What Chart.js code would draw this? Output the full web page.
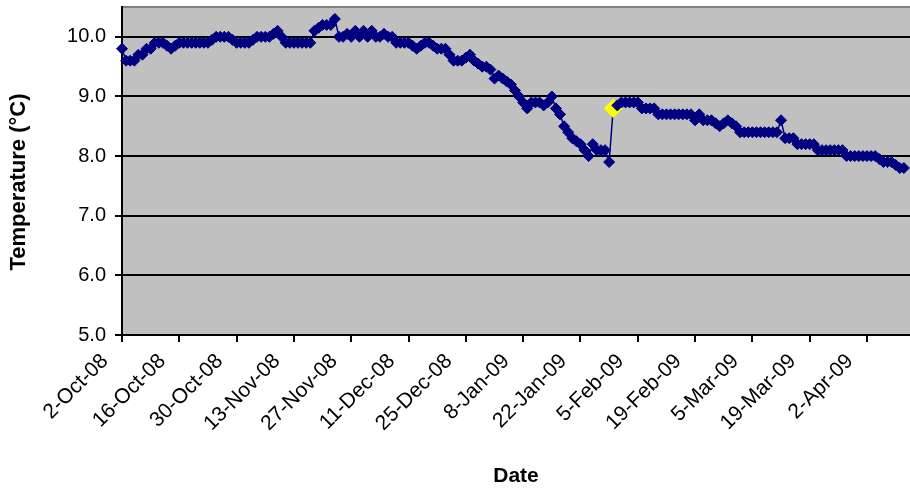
<!DOCTYPE html>
<html><head><meta charset="utf-8">
<script src="https://cdn.jsdelivr.net/npm/chart.js@4.4.0/dist/chart.umd.min.js"></script>
<style>html,body{margin:0;padding:0;background:#fff;}#wrap{width:910px;height:493px;}</style>
</head><body><div id="wrap"><canvas id="c" width="910" height="493"></canvas></div>
<script>
// Daily water temperature (°C), one value per day starting 2-Oct-08
const startDate = '2-Oct-08';
const temps = [
  9.8, 9.6, 9.6, 9.6, 9.7, 9.7, 9.8, 9.8, 9.9, 9.9,
  9.9, 9.85, 9.8, 9.85, 9.9, 9.9, 9.9, 9.9, 9.9, 9.9,
  9.9, 9.9, 9.95, 10.0, 10.0, 10.0, 10.0, 9.95, 9.9, 9.9,
  9.9, 9.9, 9.95, 10.0, 10.0, 10.0, 10.0, 10.05, 10.1, 10.0,
  9.9, 9.9, 9.9, 9.9, 9.9, 9.9, 9.9, 10.1, 10.15, 10.2,
  10.2, 10.2, 10.3, 10.0, 10.0, 10.05, 10.0, 10.1, 10.0, 10.1,
  10.0, 10.1, 10.0, 10.0, 10.05, 10.0, 10.0, 9.9, 9.9, 9.9,
  9.9, 9.85, 9.8, 9.85, 9.9, 9.9, 9.85, 9.8, 9.8, 9.8,
  9.7, 9.6, 9.6, 9.6, 9.65, 9.7, 9.6, 9.55, 9.5, 9.5,
  9.45, 9.3, 9.35, 9.3, 9.25, 9.2, 9.1, 9.0, 8.9, 8.8,
  8.9, 8.9, 8.9, 8.85, 8.9, 9.0, 8.8, 8.7, 8.5, 8.4,
  8.3, 8.25, 8.2, 8.1, 8.0, 8.2, 8.1, 8.1, 8.1, 7.9,
  8.8, 8.85, 8.9, 8.9, 8.9, 8.9, 8.9, 8.8, 8.8, 8.8,
  8.8, 8.7, 8.7, 8.7, 8.7, 8.7, 8.7, 8.7, 8.7, 8.7,
  8.6, 8.7, 8.6, 8.6, 8.6, 8.55, 8.5, 8.55, 8.6, 8.55,
  8.5, 8.4, 8.4, 8.4, 8.4, 8.4, 8.4, 8.4, 8.4, 8.4,
  8.4, 8.6, 8.3, 8.3, 8.3, 8.2, 8.2, 8.2, 8.2, 8.2,
  8.1, 8.1, 8.1, 8.1, 8.1, 8.1, 8.1, 8.0, 8.0, 8.0,
  8.0, 8.0, 8.0, 8.0, 8.0, 7.95, 7.9, 7.9, 7.9, 7.85,
  7.8, 7.8
];
const highlightIndex = 120; // the yellow marker
const xTickDays = [0, 14, 28, 42, 56, 70, 84, 98, 112, 126, 140, 154, 168, 182];
const xTickLabels = ['2-Oct-08','16-Oct-08','30-Oct-08','13-Nov-08','27-Nov-08','11-Dec-08','25-Dec-08',
                     '8-Jan-09','22-Jan-09','5-Feb-09','19-Feb-09','5-Mar-09','19-Mar-09','2-Apr-09'];
const yTicks = [5, 6, 7, 8, 9, 10];
const yTitle = 'Temperature (°C)';
const xTitle = 'Date';
const xAxisMaxDay = 192.5;

const points = temps.map((t, i) => ({x: i, y: t}));
const navy = '#000080', yellow = '#FFFF00';
const FONT = "'Liberation Sans', Arial, sans-serif";

const bgPlugin = {
  id: 'bg',
  beforeDraw(chart) {
    const {ctx, chartArea: a} = chart;
    ctx.save();
    ctx.fillStyle = '#fff';
    ctx.fillRect(0, 0, chart.width, chart.height);
    ctx.fillStyle = '#C0C0C0';
    ctx.fillRect(a.left, a.top, a.right - a.left, a.bottom - a.top);
    ctx.strokeStyle = '#808080';
    ctx.lineWidth = 2;
    ctx.beginPath();
    ctx.moveTo(a.left, a.top);
    ctx.lineTo(a.right, a.top);
    ctx.stroke();
    ctx.restore();
  },
  afterDraw(chart) {
    // vertical axis title (placed like the Excel original, slightly below plot centre)
    const {ctx, chartArea: a} = chart;
    ctx.save();
    ctx.fillStyle = '#000';
    ctx.font = "bold 22px 'Liberation Sans', Arial, sans-serif";
    ctx.textAlign = 'center';
    ctx.textBaseline = 'middle';
    ctx.translate(19, (a.top + a.bottom) / 2 + 11);
    ctx.rotate(-Math.PI / 2);
    ctx.fillText(yTitle, 0, 0);
    ctx.restore();
  }
};

new Chart(document.getElementById('c'), {
  type: 'line',
  data: {
    datasets: [{
      data: points,
      borderColor: navy,
      borderWidth: 1.5,
      tension: 0,
      fill: false,
      clip: false,
      pointStyle: 'rectRot',
      pointRadius: temps.map((_, i) => i === highlightIndex ? 9 : 5.5),
      pointBackgroundColor: temps.map((_, i) => i === highlightIndex ? yellow : navy),
      pointBorderColor: temps.map((_, i) => i === highlightIndex ? yellow : navy),
      pointBorderWidth: 1
    }]
  },
  options: {
    responsive: false,
    animation: false,
    events: [],
    layout: {autoPadding: false, padding: {left: 0, right: 0, top: 7, bottom: 0}},
    plugins: {legend: {display: false}, tooltip: {enabled: false}},
    scales: {
      x: {
        type: 'linear',
        min: 0,
        max: xAxisMaxDay,
        afterBuildTicks: s => { s.ticks = xTickDays.map(v => ({value: v})); },
        afterFit: s => { s.height = 158; s.paddingLeft = 0; s.paddingRight = 0; },
        grid: {drawOnChartArea: false, drawTicks: true, tickLength: 7, color: '#000', lineWidth: 2},
        border: {color: '#000', width: 2},
        ticks: {
          autoSkip: false, maxRotation: 45, minRotation: 45, labelOffset: -17, padding: 7,
          color: '#000', font: {family: FONT, size: 21},
          callback: (v, i) => xTickLabels[i]
        },
        title: {display: true, text: xTitle, color: '#000',
                font: {family: FONT, size: 21, weight: 'bold'}, padding: {top: 0, bottom: 4}}
      },
      y: {
        min: 5,
        max: 10.5,
        afterBuildTicks: s => { s.ticks = yTicks.map(v => ({value: v})); },
        afterFit: s => { s.width = 122; s.paddingTop = 0; s.paddingBottom = 0; },
        grid: {color: '#000', lineWidth: 2, tickLength: 7},
        border: {color: '#000', width: 2},
        ticks: {padding: 9, color: '#000', font: {family: FONT, size: 20},
                callback: v => Number(v).toFixed(1)},
        title: {display: false}
      }
    }
  },
  plugins: [bgPlugin]
});
</script>
</body></html>
